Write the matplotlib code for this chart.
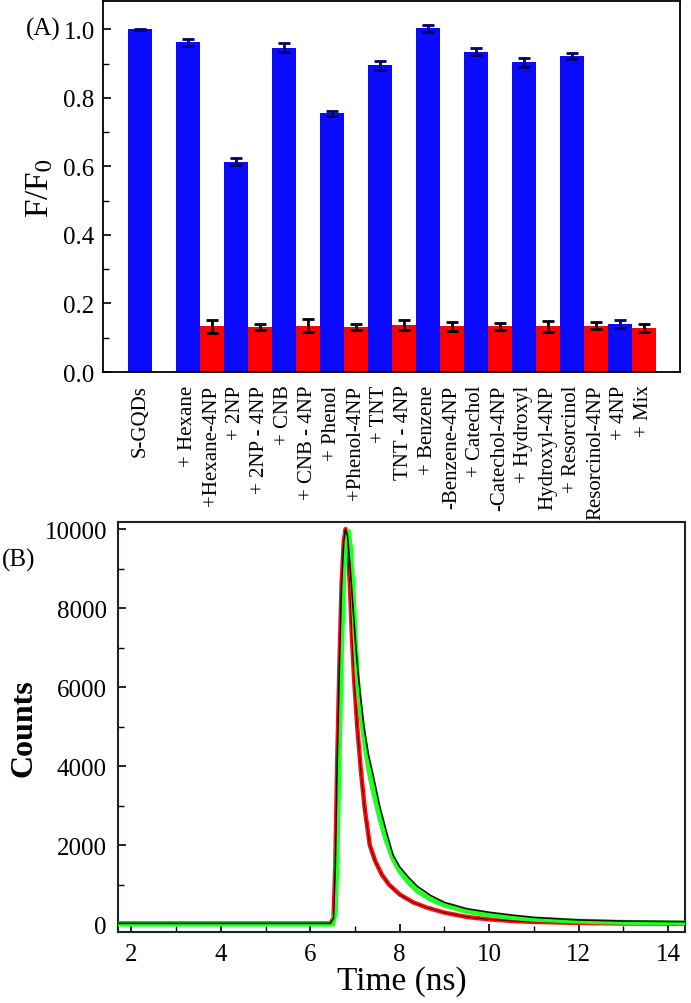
import matplotlib
matplotlib.use("Agg")
import matplotlib.pyplot as plt
from matplotlib.ticker import MultipleLocator, FormatStrFormatter

plt.rcParams['font.family'] = ['Liberation Serif', 'DejaVu Serif']
plt.rcParams['mathtext.fontset'] = 'stix'

# ---------------- Panel A data ----------------
labels = ["S-GQDs", "+ Hexane", "+Hexane-4NP", "+ 2NP", "+ 2NP - 4NP", "+ CNB",
          "+ CNB - 4NP", "+ Phenol", "+Phenol-4NP", "+ TNT", "TNT - 4NP",
          "+ Benzene", "-Benzene-4NP", "+ Catechol", "-Catechol-4NP",
          "+ Hydroxyl", "Hydroxyl-4NP", "+ Resorcinol", "Resorcinol-4NP",
          "+ 4NP", "+ Mix"]
values = [1.000, 0.962, 0.134, 0.614, 0.132, 0.947, 0.135, 0.755, 0.132,
          0.895, 0.138, 1.003, 0.133, 0.935, 0.133, 0.904, 0.133, 0.922,
          0.135, 0.140, 0.128]
errors = [0.002, 0.009, 0.019, 0.010, 0.009, 0.013, 0.019, 0.008, 0.009,
          0.014, 0.015, 0.010, 0.014, 0.010, 0.009, 0.013, 0.016, 0.009,
          0.010, 0.011, 0.012]
quenched = [False, False, True, False, True, False, True, False, True,
            False, True, False, True, False, True, False, True, False,
            True, False, True]

# ---------------- Panel B data ----------------
black_t = [1.7, 6.45, 6.52, 6.56, 6.60, 6.65, 6.70, 6.75, 6.79, 6.83, 6.88,
           6.95, 7.02, 7.10, 7.20, 7.30, 7.40, 7.55, 7.70, 7.85, 8.0, 8.2,
           8.4, 8.7, 9.0, 9.5, 10.0, 10.5, 11.0, 12.0, 13.0, 14.38]
black_c = [20, 20, 150, 1500, 4000, 6500, 8600, 9700, 10000, 9850, 9200,
           8100, 7000, 6000, 5000, 4300, 3800, 3000, 2350, 1750, 1450, 1180,
           950, 720, 550, 390, 300, 230, 170, 105, 78, 62]
green_t = [1.7, 6.50, 6.56, 6.60, 6.65, 6.70, 6.75, 6.80, 6.85, 6.90, 6.95,
           7.00, 7.05, 7.10, 7.20, 7.30, 7.40, 7.55, 7.70, 7.85, 8.0, 8.2,
           8.4, 8.7, 9.0, 9.5, 10.0, 10.5, 11.0, 12.0, 13.0, 14.38]
green_c = [0, 0, 300, 1800, 4500, 7000, 8900, 9800, 9950, 9500, 8600,
           7400, 6300, 5600, 4700, 3950, 3400, 2700, 2100, 1650, 1330, 1050,
           830, 620, 480, 320, 230, 170, 120, 75, 45, 30]
red_t = [1.7, 6.45, 6.52, 6.56, 6.60, 6.65, 6.70, 6.75, 6.79, 6.83, 6.88,
         6.93, 6.98, 7.05, 7.13, 7.22, 7.33, 7.45, 7.60, 7.76, 8.0, 8.3,
         8.6, 9.0, 9.5, 10.0, 10.5, 11.0, 12.0, 13.0, 14.38]
red_c = [20, 20, 150, 1500, 4000, 6500, 8600, 9700, 10000, 9700, 8700,
         7300, 6200, 5000, 3900, 2900, 2000, 1600, 1250, 1000, 750, 550,
         420, 290, 180, 120, 80, 55, 30, 15, 10]

W, H = 691, 1004
fig = plt.figure(figsize=(W / 100, H / 100), dpi=100)

# ---------------- Panel A ----------------
axA = fig.add_axes([103 / W, 1 - 373 / H, (680 - 103) / W, (373 - 2) / H])
xpos = [0] + list(range(2, 2 + len(labels) - 1))
BLUE = '#0a0aff'
RED = '#ff0000'
for x, v, e, q in zip(xpos, values, errors, quenched):
    axA.bar(x, v, width=1.0, color=RED if q else BLUE, edgecolor='none', zorder=2)
    axA.errorbar(x, v, yerr=e, fmt='none', ecolor='black' if q else '#000066',
                 elinewidth=2.0, capsize=4, capthick=2.0, zorder=3)
axA.set_xlim(-1.54, 22.5)
axA.set_ylim(0, 1.083)
axA.set_xticks(xpos)
axA.set_xticklabels(labels, rotation=90, fontsize=15)
axA.tick_params(axis='x', length=0, pad=9)
axA.yaxis.set_major_locator(MultipleLocator(0.2))
axA.yaxis.set_minor_locator(MultipleLocator(0.1))
axA.yaxis.set_major_formatter(FormatStrFormatter('%.1f'))
axA.tick_params(axis='y', which='major', direction='in', length=6, width=1.2,
                labelsize=18, pad=6)
axA.tick_params(axis='y', which='minor', direction='in', length=4, width=1.0)
axA.set_ylabel(r'F/F$_\mathrm{0}$', fontsize=24, labelpad=6)
for s in axA.spines.values():
    s.set_linewidth(1.3)
fig.text(26 / W, 1 - 29 / H, '(A)', fontsize=18, va='center', ha='left')

# ---------------- Panel B ----------------
axB = fig.add_axes([118 / W, 1 - 933 / H, (685 - 118) / W, (933 - 523) / H])
axB.plot(red_t, red_c, color='#ff1010', lw=3.2, zorder=2, solid_joinstyle='round')
axB.plot(red_t, red_c, color='#600000', lw=0.8, zorder=2.1)
axB.plot(green_t, green_c, color='#22ff22', lw=3.6, zorder=3, solid_joinstyle='round')
axB.plot(black_t, black_c, color='#101010', lw=1.2, zorder=4)
axB.set_xlim(1.7, 14.38)
axB.set_ylim(-200, 10180)
axB.xaxis.set_major_locator(MultipleLocator(2))
axB.xaxis.set_minor_locator(MultipleLocator(1))
axB.yaxis.set_major_locator(MultipleLocator(2000))
axB.yaxis.set_minor_locator(MultipleLocator(1000))
axB.tick_params(which='major', direction='in', length=6, width=1.2, labelsize=18)
axB.tick_params(which='minor', direction='in', length=4, width=1.0)
axB.tick_params(axis='x', pad=8)
axB.tick_params(axis='y', pad=8)
axB.set_xlabel('Time (ns)', fontsize=24, labelpad=0)
axB.set_ylabel('Counts', fontsize=23, fontweight='bold', labelpad=4)
for s in axB.spines.values():
    s.set_linewidth(1.5)
    s.set_color('#1a2424')
fig.text(2 / W, 1 - 560 / H, '(B)', fontsize=18, va='center', ha='left')

fig.savefig('out.png', dpi=100)
